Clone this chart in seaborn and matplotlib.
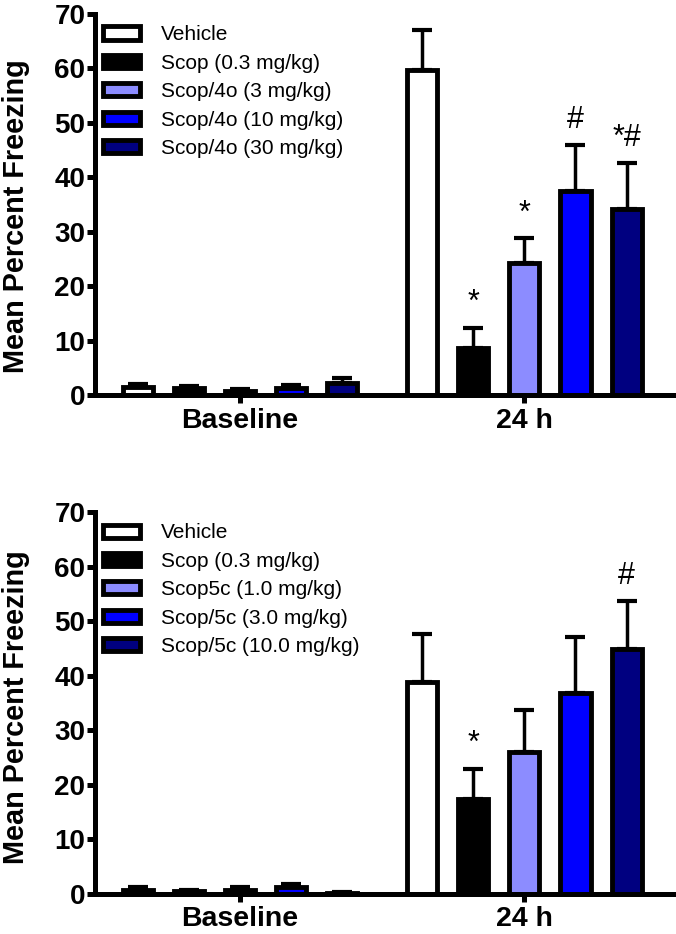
import matplotlib
matplotlib.use("Agg")
import matplotlib.pyplot as plt
import seaborn as sns
import pandas as pd

sns.set_style("ticks")
plt.rcParams['font.family'] = ['Liberation Sans', 'DejaVu Sans']
for k in ["text.color", "axes.labelcolor", "xtick.color", "ytick.color",
          "axes.edgecolor"]:
    plt.rcParams[k] = "black"

times = ["Baseline", "24 h"]
colors = ["#ffffff", "#000000", "#8c8cff", "#0000ff", "#000080"]

groups_top = ["Vehicle", "Scop (0.3 mg/kg)", "Scop/4o (3 mg/kg)",
              "Scop/4o (10 mg/kg)", "Scop/4o (30 mg/kg)"]
base_top = [1.5, 1.2, 0.7, 1.2, 2.2]
base_top_sem = [0.5, 0.5, 0.4, 0.6, 0.9]
h24_top = [59.7, 8.6, 24.2, 37.4, 34.1]
h24_top_sem = [7.3, 3.7, 4.6, 8.5, 8.6]
marks_top = ["", "*", "*", "#", "*#"]

groups_bot = ["Vehicle", "Scop (0.3 mg/kg)", "Scop5c (1.0 mg/kg)",
              "Scop/5c (3.0 mg/kg)", "Scop/5c (10.0 mg/kg)"]
base_bot = [0.8, 0.5, 0.8, 1.2, 0.2]
base_bot_sem = [0.4, 0.3, 0.4, 0.6, 0.1]
h24_bot = [38.8, 17.4, 26.0, 36.8, 44.9]
h24_bot_sem = [8.8, 5.5, 7.7, 10.3, 8.8]
marks_bot = ["", "*", "", "", "#"]


def panel(ax, groups, base, base_sem, h24, h24_sem, marks, label_y):
    df = pd.DataFrame({
        "time": [times[0]] * 5 + [times[1]] * 5,
        "group": groups + groups,
        "mean": base + h24,
        "sem": base_sem + h24_sem,
    })
    sns.barplot(data=df, x="time", y="mean", hue="group", order=times,
                hue_order=groups, palette=colors, errorbar=None,
                width=0.9, gap=0.41, edgecolor="black", linewidth=3.5,
                saturation=1, ax=ax)
    for i, g in enumerate(groups):
        cont = ax.containers[i]
        for j, rect in enumerate(cont.patches):
            t = times[j]
            row = df[(df.time == t) & (df.group == g)].iloc[0]
            xc = rect.get_x() + rect.get_width() / 2
            ax.errorbar(xc, row["mean"], yerr=[[0], [row["sem"]]],
                        color="black", elinewidth=2.5, capsize=7,
                        capthick=3, zorder=1)
            if t == "24 h" and marks[i]:
                ax.text(xc, row["mean"] + row["sem"] + 1.8, marks[i],
                        ha="center", va="bottom", fontsize=22)
    ax.set_xlim(-0.51, 1.53)
    ax.set_ylim(0, 70)
    ax.set_yticks(range(0, 71, 10))
    ax.set_xlabel("")
    ax.set_ylabel("Mean Percent Freezing", fontsize=20.8, fontweight="bold")
    ax.yaxis.set_label_coords(-0.112, label_y)
    sns.despine(ax=ax)
    ax.spines["left"].set_linewidth(3.6)
    ax.spines["bottom"].set_linewidth(3.6)
    ax.tick_params(axis="both", width=3.6, length=6, pad=1, labelsize=20)
    ax.tick_params(axis="x", labelsize=20.5, pad=3)
    for lab in ax.get_xticklabels() + ax.get_yticklabels():
        lab.set_fontweight("bold")
    ax.legend(loc="upper left", frameon=False, fontsize=15,
              handlelength=1.8, handleheight=0.6, labelspacing=0.45,
              handletextpad=1.0, borderpad=0.55, borderaxespad=0.0,
              bbox_to_anchor=(-0.006, 1.0))
    for h in ax.get_legend().legend_handles:
        h.set_linewidth(3.5)


fig = plt.figure(figsize=(6.76, 9.34), dpi=100)
ax1 = fig.add_axes([95 / 676, (934 - 395) / 934, 580 / 676, 381 / 934])
ax2 = fig.add_axes([95 / 676, (934 - 894) / 934, 580 / 676, 382 / 934])
panel(ax1, groups_top, base_top, base_top_sem, h24_top, h24_top_sem,
      marks_top, 0.47)
panel(ax2, groups_bot, base_bot, base_bot_sem, h24_bot, h24_bot_sem,
      marks_bot, 0.49)
fig.savefig("out.png", dpi=100)
